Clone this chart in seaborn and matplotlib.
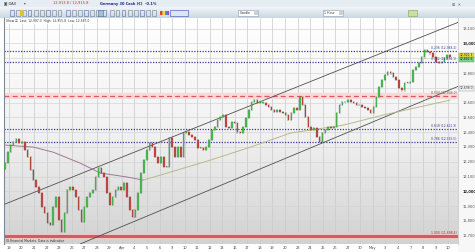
import numpy as np
import pandas as pd
import matplotlib
matplotlib.use("Agg")
import matplotlib.pyplot as plt
import matplotlib.transforms as mtransforms
from matplotlib.patches import Rectangle
import seaborn as sns

# ---------------- data ----------------
first_open = 12150
closes = [
    12191, 12266, 12313, 12333, 12353, 12326, 12333, 12279, 12232, 12144, 12076, 12029, 11988,
    11894, 11853, 11786, 11772, 11894, 11961, 11806, 11725, 11853, 12009, 12029, 12009, 11961,
    11874, 11793, 11894, 11961, 11988, 12009, 12097, 12157, 12124, 12097, 11988, 11907, 11961,
    12009, 12029, 12009, 12056, 11961, 11874, 11826, 11874, 11988, 12124, 12211, 12279, 12326,
    12299,
    12232, 12191, 12232, 12164, 12164, 12360, 12299, 12232, 12299, 12232, 12394, 12400, 12380,
    12367, 12347, 12293, 12293, 12279, 12299, 12347, 12414, 12434, 12482, 12502, 12516, 12434,
    12428, 12468, 12461, 12400, 12394, 12434, 12495, 12549, 12603, 12617, 12597, 12597, 12597,
    12583, 12570, 12549, 12536, 12549, 12536, 12529, 12516, 12482, 12529, 12563, 12549,
    12637, 12583, 12502, 12434, 12414, 12428, 12367, 12333, 12394, 12414, 12434, 12428, 12434,
    12529, 12583, 12603, 12603, 12617, 12603, 12597, 12583, 12583, 12570, 12563, 12549, 12529,
    12570, 12637, 12705, 12752, 12786, 12806, 12799, 12772, 12752, 12698, 12684, 12732, 12732,
    12739, 12820, 12840, 12867, 12907, 12955, 12941, 12934, 12907, 12874, 12867, 12874, 12900,
    12921, 12907,
]

ma_falling_idx = [0, 10, 17, 26.5, 33.6, 43, 48.8]
ma_falling_val = [12313, 12299, 12265, 12191, 12124, 12097, 12076]
ma_rising_idx = [48.8, 58.3, 72.4, 86.6, 100.7, 119.4, 133.2, 157]
ma_rising_val = [12076, 12130, 12211, 12299, 12394, 12448, 12515, 12617]

upper_channel_idx = [0, 160]
upper_channel_val = [11914, 13144]
lower_channel_idx = [26.5, 160]
lower_channel_val = [11644, 12711]

fib_levels = [12948, 12874, 12644, 12421, 12333, 11698]
fib_labels = ["0.236 (12,948.2)", "0.382 (12,874.1)", "0.500 (12,644.0)",
              "0.618 (12,421.3)", "0.786 (12,333.5)", "1.000 (11,698.4)"]
fib_kinds = ["dot", "dot", "dash", "dot", "dot", "solid"]

date_labels = ["19", "20", "21", "22", "23", "26", "27", "28", "29", "Apr",
               "4", "5", "6", "9", "10", "11", "12", "13", "16", "17", "18", "19",
               "20", "23", "24", "25", "26", "27", "30", "May", "3", "4", "7", "8",
               "9", "10"]
price_ticks = [11700, 11800, 11900, 12000, 12100, 12200, 12300, 12400, 12500,
               12600, 12700, 12800, 12900, 13000, 13100]
bold_ticks = [12000, 13000]
covered_ticks = [12700, 12900]   # hidden behind the price boxes

offer_price = 12921.3
bid_price = 12892.6
channel_price = 12698.0

# ---------------- figure ----------------
sns.set_style("white")
plt.rcParams['font.family'] = ['DejaVu Sans']

W, H = 475, 252
fig = plt.figure(figsize=(W / 100, H / 100), dpi=100, facecolor="white")

def fx(px):
    return px / W

def fy(py):
    return 1 - py / H

# right axis strip (behind everything)
fig.patches.append(Rectangle((fx(458), 0), 17 / W, fy(18), transform=fig.transFigure,
                             facecolor="#f7f7f7", edgecolor="none", zorder=-5))

# title bar + toolbar
fig.patches.append(Rectangle((0, fy(7)), 1, 7 / H, transform=fig.transFigure,
                             facecolor="#e6edf3", edgecolor="none", zorder=-5))
grad_tb = np.linspace(0, 1, 50).reshape(-1, 1)
tb_ax = fig.add_axes([0, fy(18), 1, 11 / H])
tb_ax.imshow(grad_tb, aspect="auto", cmap=matplotlib.colors.LinearSegmentedColormap.from_list(
    "tb", ["#f3f6f9", "#c9d6e2"]), extent=[0, 1, 0, 1], origin="upper")
tb_ax.set_axis_off()
fig.text(fx(4), fy(3.5), "▣ DAX", fontsize=2.6, va="center", color="#333333")
fig.text(fx(24), fy(3.5), "▾", fontsize=2.6, va="center", color="#555555")
fig.text(fx(53), fy(3.5), "12,913.8 / 12,915.8", fontsize=2.6, va="center", color="#c03030")
fig.text(fx(100), fy(3.5), "Germany 30 Cash (€)  -0.1%", fontsize=2.6, va="center",
         color="#203080", fontweight="bold")
fig.text(fx(452), fy(5), "⊞  ✕", fontsize=2.8, va="center", color="#666666")

# toolbar icons
icon_x = [10, 16, 22, 28, 34, 40, 46, 52, 58, 66, 72, 78, 84, 90, 96, 102, 110, 116, 122,
          128, 134, 140, 146, 152]
for i, x in enumerate(icon_x):
    col = "#6a7f95" if i % 3 else "#4a6aa0"
    fig.patches.append(Rectangle((fx(x), fy(15.5)), 3.5 / W, 5 / H, transform=fig.transFigure,
                                 facecolor="none", edgecolor=col, linewidth=0.4, zorder=3))
fig.patches.append(Rectangle((fx(20), fy(15.5)), 4 / W, 5 / H, transform=fig.transFigure,
                             facecolor="#e0c040", edgecolor="none", zorder=3))
fig.patches.append(Rectangle((fx(98), fy(15.5)), 5 / W, 5 / H, transform=fig.transFigure,
                             facecolor="#a0c0e0", edgecolor="#4a6aa0", linewidth=0.4, zorder=3))
for i, c in enumerate(["#e04040", "#e0a040", "#e0e040", "#40c040", "#4080e0", "#a040c0"]):
    fig.patches.append(Rectangle((fx(160 + i * 1.5), fy(15)), 1.5 / W, 4 / H,
                                 transform=fig.transFigure, facecolor=c, edgecolor="none",
                                 zorder=3))
fig.patches.append(Rectangle((fx(170), fy(15.5)), 18 / W, 5 / H, transform=fig.transFigure,
                             facecolor="#dde6f8", edgecolor="#3050b0", linewidth=0.4, zorder=3))
for x0, w, lab in [(238, 20, "Candle"), (323, 20, "1 Hour")]:
    fig.patches.append(Rectangle((fx(x0), fy(15.5)), w / W, 5.5 / H, transform=fig.transFigure,
                                 facecolor="white", edgecolor="#8899aa", linewidth=0.4, zorder=3))
    fig.text(fx(x0 + 1.5), fy(12.8), lab, fontsize=2.3, va="center", color="#333333", zorder=4)
    fig.patches.append(Rectangle((fx(x0 + w - 4), fy(15)), 3.5 / W, 4.5 / H,
                                 transform=fig.transFigure, facecolor="#c8d0d8",
                                 edgecolor="none", zorder=4))
fig.patches.append(Rectangle((fx(408), fy(15.5)), 9 / W, 5.5 / H, transform=fig.transFigure,
                             facecolor="#c8e0a0", edgecolor="#80a060", linewidth=0.4, zorder=3))

# main axes
ax = fig.add_axes([fx(4), fy(244), (458 - 4) / W, (244 - 18) / H])
ax.set_facecolor("none")
grad = np.linspace(0, 1, 200).reshape(-1, 1)
ax.imshow(grad, aspect="auto", extent=[0, 1, 0, 1], transform=ax.transAxes, origin="upper",
          cmap=matplotlib.colors.LinearSegmentedColormap.from_list(
              "bg", ["#ffffff", "#f2f2f2", "#d2d2d2"]), zorder=0)

x_idx = np.arange(len(closes))
x_lo, x_hi = -0.35, 159.8
y_lo, y_hi = 11644, 13172
ax.set_xlim(x_lo, x_hi)
ax.set_ylim(y_lo, y_hi)

tick_pos = 1.41 + 4.425 * np.arange(len(date_labels))
ax.set_xticks(tick_pos)
ax.set_xticklabels(date_labels, fontsize=2.6, color="#444444")
ax.tick_params(axis="x", length=0, pad=1.2)
ax.yaxis.tick_right()
ax.set_yticks(price_ticks)
ax.set_yticklabels(["" if v in covered_ticks else f"{v:,}" for v in price_ticks],
                   fontsize=2.6, color="#555555")
for lab, v in zip(ax.get_yticklabels(), price_ticks):
    if v in bold_ticks:
        lab.set_fontweight("bold")
        lab.set_color("#222222")
ax.tick_params(axis="y", length=0, pad=3)

for t in tick_pos:
    ax.axvline(t, color="#c9c9c9", lw=0.5, zorder=1)
for v in price_ticks:
    ax.axhline(v, color="#d4d4d4", lw=0.5, zorder=1)

for s in ["top", "bottom"]:
    ax.spines[s].set_visible(False)
ax.spines["left"].set_color("#7a8a9a")
ax.spines["left"].set_linewidth(0.8)
ax.spines["right"].set_color("#c0c0c0")
ax.spines["right"].set_linewidth(0.5)

# fib / support lines
for lvl, lab, kind in zip(fib_levels, fib_labels, fib_kinds):
    if kind == "dot":
        ax.axhline(lvl, color="#3a3a9a", lw=0.9, ls=(0, (1, 1.2)), zorder=2)
        tc = "#3a3a9a"
    elif kind == "dash":
        ax.axhline(lvl, color="#f6dada", lw=4.5, zorder=2)
        ax.axhline(lvl, color="#d85a5a", lw=0.9, ls=(0, (4, 2.5)), zorder=2)
        tc = "#a03030"
    else:
        ax.axhline(lvl, color="#f2c6c6", lw=5, zorder=2)
        ax.axhline(lvl, color="#d65c5c", lw=2.2, zorder=2)
        tc = "#a03030"
    ax.text(159.3, lvl + 6, lab, fontsize=2.2, color=tc, ha="right", va="bottom", zorder=6)

# channel lines
ch_up = pd.DataFrame({"idx": upper_channel_idx, "val": upper_channel_val})
ch_dn = pd.DataFrame({"idx": lower_channel_idx, "val": lower_channel_val})
sns.lineplot(data=ch_up, x="idx", y="val", ax=ax, color="#505050", lw=0.6, zorder=3)
sns.lineplot(data=ch_dn, x="idx", y="val", ax=ax, color="#505050", lw=0.6, zorder=3)

# moving average
ma_f = pd.DataFrame({"idx": ma_falling_idx, "val": ma_falling_val})
ma_r = pd.DataFrame({"idx": ma_rising_idx, "val": ma_rising_val})
sns.lineplot(data=ma_f, x="idx", y="val", ax=ax, color="#a07898", lw=0.7, zorder=3)
sns.lineplot(data=ma_r, x="idx", y="val", ax=ax, color="#b9b98c", lw=0.7, zorder=3)

# candles
closes_arr = np.array(closes, dtype=float)
opens_arr = np.concatenate([[first_open], closes_arr[:-1]])
up = closes_arr >= opens_arr
body = closes_arr - opens_arr
body = np.where(np.abs(body) < 4, np.where(up, 4, -4), body)
ax.vlines(x_idx, np.minimum(opens_arr, closes_arr) - 9, np.maximum(opens_arr, closes_arr) + 9,
          color="#4a4a4a", lw=0.3, zorder=3.9)
ax.bar(x_idx[up], body[up], bottom=opens_arr[up], width=0.55, color="#4cbb4f",
       edgecolor="#2f8a35", linewidth=0.15, zorder=4)
ax.bar(x_idx[~up], body[~up], bottom=opens_arr[~up], width=0.55, color="#c04a42",
       edgecolor="#8a2f2a", linewidth=0.15, zorder=4)

ax.set_xlabel("")
ax.set_ylabel("")

# text inside plot
ax.text(0.005, 0.995, "Show ☑  Last: 12,907.3  High: 12,955.8  Low: 12,587.0", transform=ax.transAxes,
        fontsize=2.2, color="#333333", ha="left", va="top", zorder=6,
        bbox=dict(facecolor="white", edgecolor="none", pad=0.3))
ax.text(0.005, 0.004, "IG Financial Markets. Data is indicative", transform=ax.transAxes,
        fontsize=2.2, color="#333333", ha="left", va="bottom", zorder=6)

# price boxes on right axis
trans = mtransforms.blended_transform_factory(ax.transAxes, ax.transData)
ax.text(1.004, offer_price, f"{offer_price:,.1f}", transform=trans, fontsize=2.2, ha="left",
        va="center", color="#222222", zorder=7, clip_on=False,
        bbox=dict(facecolor="#e8e030", edgecolor="#b0a820", lw=0.3, pad=0.3))
ax.text(1.004, bid_price, f"{bid_price:,.1f}", transform=trans, fontsize=2.2, ha="left",
        va="center", color="#222222", zorder=7, clip_on=False,
        bbox=dict(facecolor="#7fd07f", edgecolor="#50a050", lw=0.3, pad=0.3))
ax.text(1.004, channel_price, f"{channel_price:,.1f}", transform=trans, fontsize=2.2, ha="left",
        va="center", color="#444444", zorder=7, clip_on=False,
        bbox=dict(facecolor="#f0f0f0", edgecolor="#909090", lw=0.3, pad=0.3))

fig.savefig("out.png", dpi=100, facecolor="white")
